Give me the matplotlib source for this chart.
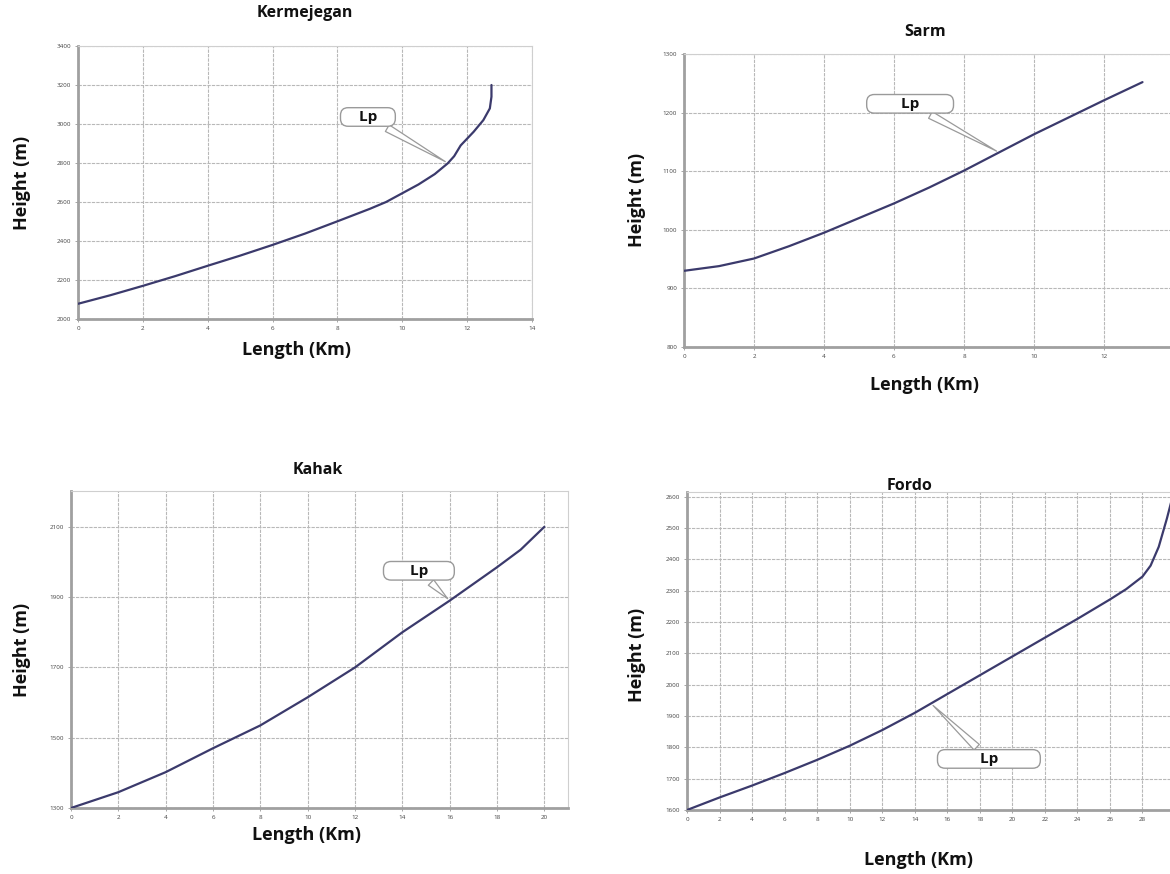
import matplotlib
matplotlib.use("Agg")
import matplotlib.pyplot as plt

plt.rcParams['font.family'] = ['Open Sans', 'DejaVu Sans']

# Longitudinal profiles: distance along the channel (km) and height (m)
kerm_len = [0, 1, 2, 3, 4, 5, 6, 7, 8, 9, 9.5, 10, 10.5, 11, 11.4, 11.6, 11.8, 12.0, 12.2, 12.5, 12.7, 12.75, 12.75]
kerm_h = [2078, 2122, 2170, 2220, 2273, 2325, 2380, 2438, 2501, 2565, 2600, 2645, 2690, 2743, 2798, 2835, 2890, 2925, 2960, 3020, 3080, 3140, 3200]

sarm_len = [0, 1, 2, 3, 4, 5, 6, 7, 8, 9, 10, 11, 12, 13.1]
sarm_h = [930, 938, 951, 972, 995, 1020, 1045, 1072, 1101, 1132, 1163, 1192, 1221, 1252]

kahak_len = [0, 2, 4, 6, 8, 10, 12, 13, 14, 16, 18, 19, 20]
kahak_h = [1300, 1345, 1402, 1470, 1535, 1615, 1700, 1750, 1800, 1890, 1985, 2035, 2100]

fordo_len = [0, 2, 4, 6, 8, 10, 12, 14, 15, 16, 18, 20, 22, 24, 26, 27, 28, 28.5, 29, 29.5, 29.8]
fordo_h = [1600, 1640, 1678, 1718, 1760, 1805, 1855, 1910, 1940, 1970, 2030, 2090, 2150, 2210, 2272, 2305, 2345, 2380, 2440, 2530, 2590]

# Tick values per panel
kerm_xticks = list(range(0, 15, 2))
kerm_yticks = list(range(2000, 3401, 200))
sarm_xticks = list(range(0, 15, 2))
sarm_yticks = list(range(800, 1301, 100))
kahak_xticks = list(range(0, 21, 2))
kahak_yticks = list(range(1300, 2101, 200))
fordo_xticks = list(range(0, 31, 2))
fordo_yticks = list(range(1600, 2601, 100))

# Lp callout: label centre and the point on the profile it refers to
kerm_lp = ((8.94, 3036), (11.4, 2800))
sarm_lp = ((6.46, 1215), (9.0, 1132))
kahak_lp = ((14.7, 1975), (16.0, 1890))
fordo_lp = ((18.56, 1763), (15.0, 1940))

W, H = 1170, 874
fig = plt.figure(figsize=(W / 100, H / 100), dpi=100)
fig.patch.set_facecolor("white")


def rect(l, r, t, b):
    return [l / W, 1 - b / H, (r - l) / W, (b - t) / H]


LINE = "#3b3a6c"


def panel(box, x, y, xt, yt, xlim, ylim, lp, lp_pad):
    ax = fig.add_axes(rect(*box))
    ax.plot(x, y, color=LINE, lw=1.6, solid_capstyle="round", zorder=3)
    ax.set_xlim(*xlim)
    ax.set_ylim(*ylim)
    ax.set_xticks(xt)
    ax.set_yticks(yt)
    ax.set_xticklabels([str(v) for v in xt], fontsize=4.5, color="#444444")
    ax.set_yticklabels([str(v) for v in yt], fontsize=4.5, color="#444444")
    ax.tick_params(length=2, width=0.6, color="#999999", pad=3)
    ax.grid(True, color="#b8b8b8", lw=0.8, ls=(0, (3, 1)))
    for s in ("left", "bottom"):
        ax.spines[s].set_color("#a0a0a0")
        ax.spines[s].set_linewidth(2.0)
    for s in ("top", "right"):
        ax.spines[s].set_color("#cfcfcf")
        ax.spines[s].set_linewidth(0.8)
    (tx, ty), (px, py) = lp
    ax.annotate(lp_pad + "Lp" + lp_pad, xy=(px, py), xytext=(tx, ty),
                ha="center", va="center", fontsize=11, fontweight="bold",
                color="#111111",
                bbox=dict(boxstyle="round,pad=0.15,rounding_size=0.5",
                          fc="white", ec="#9a9a9a", lw=1.0),
                arrowprops=dict(arrowstyle="wedge,tail_width=0.5,shrink_factor=0.5",
                                fc="white", ec="#9a9a9a", lw=0.9),
                zorder=5)
    return ax


panel((78, 532, 46, 319), kerm_len, kerm_h, kerm_xticks, kerm_yticks,
      (0, 14), (2000, 3400), kerm_lp, "    ")
panel((684, 1174, 54, 347), sarm_len, sarm_h, sarm_xticks, sarm_yticks,
      (0, 14), (800, 1300), sarm_lp, "        ")
panel((71, 568, 491, 808), kahak_len, kahak_h, kahak_xticks, kahak_yticks,
      (0, 21), (1300, 2202), kahak_lp, "      ")
panel((687, 1175, 492, 810), fordo_len, fordo_h, fordo_xticks, fordo_yticks,
      (0, 30), (1600, 2615), fordo_lp, "          ")


def ftext(x, y, s, size, rot=0):
    fig.text(x / W, 1 - y / H, s, ha="center", va="center", fontsize=size,
             fontweight="bold", rotation=rot, color="#111111")


ftext(305, 13, "Kermejegan", 11.5)
ftext(925, 32, "Sarm", 11.5)
ftext(318, 470, "Kahak", 11.5)
ftext(910, 486, "Fordo", 11.5)

ftext(297, 350, "Length (Km)", 13)
ftext(925, 385, "Length (Km)", 13)
ftext(307, 835, "Length (Km)", 13)
ftext(918, 860, "Length (Km)", 13)

ftext(22, 183, "Height (m)", 13, rot=90)
ftext(637, 200, "Height (m)", 13, rot=90)
ftext(22, 650, "Height (m)", 13, rot=90)
ftext(637, 655, "Height (m)", 13, rot=90)

fig.savefig("out.png", dpi=100, facecolor="white")
